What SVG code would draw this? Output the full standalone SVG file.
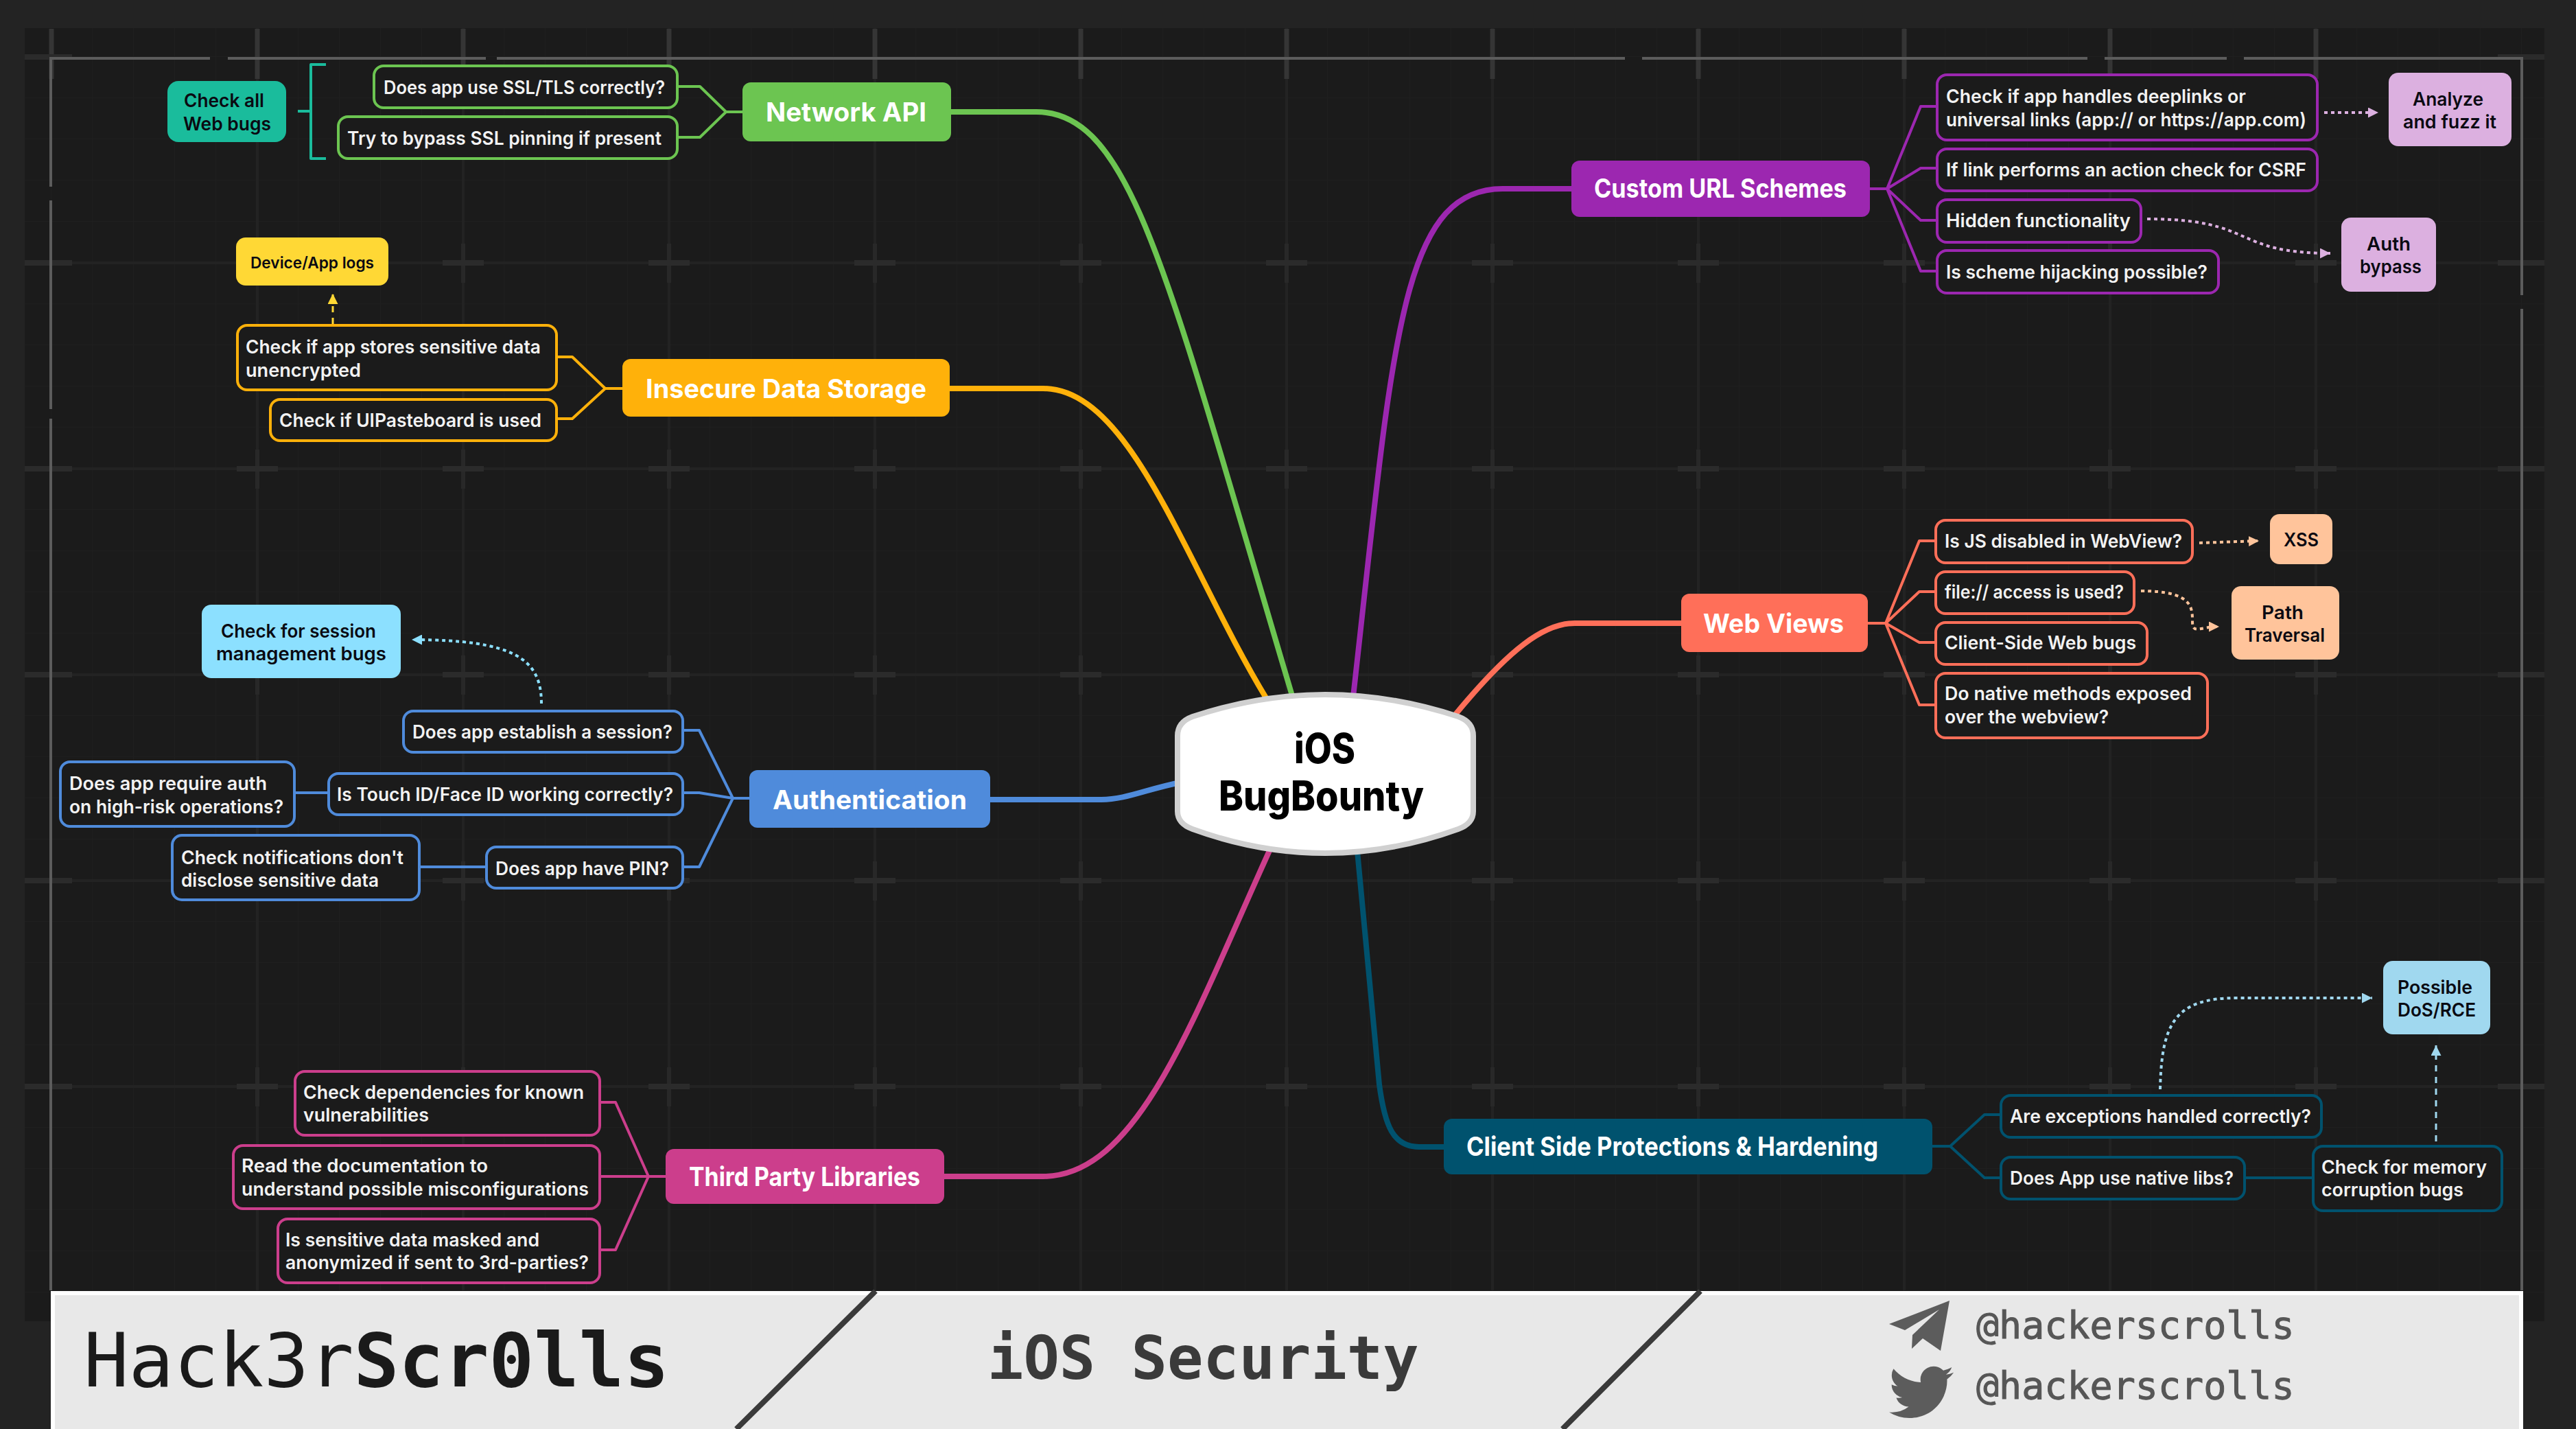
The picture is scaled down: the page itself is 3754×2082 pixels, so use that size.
<svg xmlns="http://www.w3.org/2000/svg" width="3754" height="2082" viewBox="0 0 3754 2082">
<style>
text{font-family:Inter,"Liberation Sans",sans-serif}
.o{fill:#1b1b1b;stroke-width:4}
.s{fill:none}
.q{font-size:27px;font-weight:600;fill:#f2f2f2;transform:translateY(2px)}
.b{font-size:27px;font-weight:600;fill:#0a0a12;transform:translateY(2px)}
.h{font-size:38px;font-weight:700;fill:#fff;transform:translateY(1px)}
.br{stroke-width:8;fill:none}
.fan{stroke-width:4;fill:none;stroke-linejoin:round}
.dot{stroke-width:4;fill:none;stroke-dasharray:5 5}
.dash{stroke-width:3;fill:none;stroke-dasharray:9 8}
.mono{font-family:"DejaVu Sans Mono","Liberation Mono",monospace}
.grn{stroke:#6cc551}.org{stroke:#ffb10a}.blu{stroke:#4f8bdb}.pnk{stroke:#cc3e8c}.pur{stroke:#9c27b0}.cor{stroke:#ff6f59}.tea{stroke:#00526e}
</style>
<defs>
<pattern id="fine" width="60" height="60" patternUnits="userSpaceOnUse" x="15" y="23"><path d="M60 0V60M0 60H60" fill="none" stroke="#1f1f1f" stroke-width="2"/></pattern>
<marker id="mY" viewBox="0 0 10 10" refX="10" refY="5" orient="auto" markerUnits="userSpaceOnUse" markerWidth="15" markerHeight="15"><path d="M0 0L10 5L0 10Z" fill="#ffd835"/></marker>
<marker id="mP" viewBox="0 0 10 10" refX="10" refY="5" orient="auto" markerUnits="userSpaceOnUse" markerWidth="15" markerHeight="15"><path d="M0 0L10 5L0 10Z" fill="#dcb0e0"/></marker>
<marker id="mO" viewBox="0 0 10 10" refX="10" refY="5" orient="auto" markerUnits="userSpaceOnUse" markerWidth="15" markerHeight="15"><path d="M0 0L10 5L0 10Z" fill="#ffc49b"/></marker>
<marker id="mS" viewBox="0 0 10 10" refX="10" refY="5" orient="auto" markerUnits="userSpaceOnUse" markerWidth="15" markerHeight="15"><path d="M0 0L10 5L0 10Z" fill="#8ce0ff"/></marker>
<marker id="mL" viewBox="0 0 10 10" refX="10" refY="5" orient="auto" markerUnits="userSpaceOnUse" markerWidth="15" markerHeight="15"><path d="M0 0L10 5L0 10Z" fill="#a0d8ef"/></marker>
</defs>

<g id="background">
<rect width="3754" height="2082" fill="#232323"/>
<rect x="36" y="41" width="3672" height="1884" fill="#1b1b1b"/>
<rect x="36" y="41" width="3672" height="1884" fill="url(#fine)"/>
<path d="M375 41V1880M675 41V1880M975 41V1880M1275 41V1880M1575 41V1880M1875 41V1880M2175 41V1880M2475 41V1880M2775 41V1880M3075 41V1880M3375 41V1880" stroke="#232323" stroke-width="4" fill="none"/>
<path d="M36 383H3708M36 683H3708M36 983H3708M36 1283H3708M36 1583H3708" stroke="#232323" stroke-width="4" fill="none"/>
<path d="M75 42V115M375 42V115M675 42V115M975 42V115M1275 42V115M1575 42V115M1875 42V115M2175 42V115M2475 42V115M2775 42V115M3075 42V115M3375 42V115" stroke="#353535" stroke-width="7" fill="none"/>
<path d="M375 355V412M675 355V412M975 355V412M1275 355V412M1575 355V412M1875 355V412M2175 355V412M2475 355V412M2775 355V412M3075 355V412M3375 355V412M375 655V712M675 655V712M975 655V712M1275 655V712M1575 655V712M1875 655V712M2175 655V712M2475 655V712M2775 655V712M3075 655V712M3375 655V712M375 955V1012M675 955V1012M975 955V1012M1275 955V1012M1575 955V1012M2175 955V1012M2475 955V1012M2775 955V1012M3075 955V1012M3375 955V1012M375 1255V1312M675 1255V1312M975 1255V1312M1275 1255V1312M1575 1255V1312M2175 1255V1312M2475 1255V1312M2775 1255V1312M3075 1255V1312M3375 1255V1312M375 1555V1612M675 1555V1612M975 1555V1612M1275 1555V1612M1575 1555V1612M1875 1555V1612M2175 1555V1612M2475 1555V1612M2775 1555V1612M3075 1555V1612M3375 1555V1612" stroke="#282828" stroke-width="6" fill="none"/>
<path d="M36 383H105M345 383H405M645 383H705M945 383H1005M1245 383H1305M1545 383H1605M1845 383H1905M2145 383H2205M2445 383H2505M2745 383H2805M3045 383H3105M3345 383H3405M3640 383H3708M36 683H105M345 683H405M645 683H705M945 683H1005M1245 683H1305M1545 683H1605M1845 683H1905M2145 683H2205M2445 683H2505M2745 683H2805M3045 683H3105M3345 683H3405M3640 683H3708M36 983H105M345 983H405M645 983H705M945 983H1005M1245 983H1305M1545 983H1605M2145 983H2205M2445 983H2505M2745 983H2805M3045 983H3105M3345 983H3405M3640 983H3708M36 1283H105M345 1283H405M645 1283H705M945 1283H1005M1245 1283H1305M1545 1283H1605M2145 1283H2205M2445 1283H2505M2745 1283H2805M3045 1283H3105M3345 1283H3405M3640 1283H3708M36 1583H105M345 1583H405M645 1583H705M945 1583H1005M1245 1583H1305M1545 1583H1605M1845 1583H1905M2145 1583H2205M2445 1583H2505M2745 1583H2805M3045 1583H3105M3345 1583H3405M3640 1583H3708M36 83H105M3640 83H3708" stroke="#2b2b2b" stroke-width="8" fill="none"/>
<path d="M74 1880V610M74 596V292M74 272V85H306M332 85H708M724 85H2368M2393 85H3042M3067 85H3245M3270 85H3675V430M3675 450V1880" stroke="#5c5c5c" stroke-width="4" fill="none"/>
</g>

<g id="connectors">
<path class="br grn" d="M1386 163H1510C1650 163 1700 400 1885 1020"/>
<path class="br org" d="M1384 566H1520C1650 566 1730 830 1850 1025"/>
<path class="br blu" d="M1443 1165H1605C1640 1165 1670 1150 1720 1140"/>
<path class="br pnk" d="M1376 1714H1520C1660 1714 1740 1480 1852 1235"/>
<path class="br pur" d="M2290 275H2190C2040 275 2030 500 1972 1015"/>
<path class="br cor" d="M2450 908H2295C2250 908 2200 945 2120 1042"/>
<path class="br tea" d="M2104 1671H2068C2030 1671 2018 1640 2010 1580L1978 1240"/>

<path class="fan grn" d="M987 126H1020L1058 163H1082M987 200H1020L1058 163"/>
<path class="fan" stroke="#1abc9c" d="M434 162H453M475 94H453V231H475"/>
<path class="fan org" d="M811 520H834L882 566H907M811 610H834L882 566"/>
<path class="fan blu" d="M995 1064H1019L1068 1163H1092M995 1155H1019L1068 1163M995 1263H1019L1068 1163M429 1155H478M611 1263H708"/>
<path class="fan pnk" d="M874 1606H897L945 1714H970M874 1714H945M874 1821H897L945 1714"/>
<path class="fan pur" d="M2725 275H2750L2799 155H2822M2750 275L2799 245H2822M2750 275L2799 321H2822M2750 275L2799 395H2822"/>
<path class="fan cor" d="M2722 908H2748L2797 788H2820M2748 908L2797 862H2820M2748 908L2797 936H2820M2748 908L2797 1027H2820"/>
<path class="fan tea" d="M2816 1670H2842L2892 1624H2915M2842 1670L2892 1716H2915M3271 1716H3370"/>

<path class="dash" stroke="#ffd835" d="M485 472V428" marker-end="url(#mY)"/>
<path class="dot" stroke="#dcb0e0" d="M3387 164H3466" marker-end="url(#mP)"/>
<path class="dot" stroke="#dcb0e0" d="M3129 319C3290 319 3250 369 3396 369" marker-end="url(#mP)"/>
<path class="dot" stroke="#ffc49b" d="M3205 791L3292 788" marker-end="url(#mO)"/>
<path class="dot" stroke="#ffc49b" d="M3120 861C3195 861 3195 885 3195 905C3195 925 3205 913 3234 913" marker-end="url(#mO)"/>
<path class="dot" stroke="#8ce0ff" d="M789 1025C789 960 750 932 600 932" marker-end="url(#mS)"/>
<path class="dot" stroke="#a0d8ef" d="M3148 1587C3150 1490 3170 1454 3260 1454H3457" marker-end="url(#mL)"/>
<path class="dash" stroke="#a0d8ef" d="M3550 1663V1523" marker-end="url(#mL)"/>
</g>

<g id="node-check-all"><rect x="244" y="118" width="173" height="89" rx="16" fill="#1abc9c"/><text class="b" x="268" y="154" textLength="117" lengthAdjust="spacingAndGlyphs">Check all</text><text class="b" x="267" y="188" textLength="128" lengthAdjust="spacingAndGlyphs">Web bugs</text></g>
<g id="node-ssl"><rect class="o grn" x="545" y="96" width="442" height="61" rx="14"/><text class="q" x="559" y="135" textLength="410" lengthAdjust="spacingAndGlyphs">Does app use SSL/TLS correctly?</text></g>
<g id="node-pinning"><rect class="o grn" x="493" y="170" width="494" height="61" rx="14"/><text class="q" x="506" y="209" textLength="458" lengthAdjust="spacingAndGlyphs">Try to bypass SSL pinning if present</text></g>
<g id="node-network-api"><rect x="1082" y="120" width="304" height="86" rx="12" fill="#6cc551"/><text class="h" x="1116" y="176" textLength="234" lengthAdjust="spacingAndGlyphs">Network API</text></g>

<g id="node-device-logs"><rect x="344" y="346" width="222" height="70" rx="14" fill="#ffd835"/><text class="b" style="font-size:23px" x="365" y="389" textLength="180" lengthAdjust="spacingAndGlyphs">Device/App logs</text></g>
<g id="node-stores"><rect class="o org" x="346" y="474" width="465" height="94" rx="14"/><text class="q" x="358" y="513" textLength="430" lengthAdjust="spacingAndGlyphs">Check if app stores sensitive data</text><text class="q" x="358" y="547" textLength="168" lengthAdjust="spacingAndGlyphs">unencrypted</text></g>
<g id="node-pasteboard"><rect class="o org" x="394" y="582" width="417" height="60" rx="14"/><text class="q" x="407" y="620" textLength="382" lengthAdjust="spacingAndGlyphs">Check if UIPasteboard is used</text></g>
<g id="node-insecure-storage"><rect x="907" y="523" width="477" height="84" rx="12" fill="#ffb10a"/><text class="h" x="941" y="579" textLength="409" lengthAdjust="spacingAndGlyphs">Insecure Data Storage</text></g>

<g id="node-session-bugs"><rect x="294" y="881" width="290" height="107" rx="14" fill="#8ce0ff"/><text class="b" x="322" y="927" textLength="226" lengthAdjust="spacingAndGlyphs">Check for session</text><text class="b" x="315" y="960" textLength="248" lengthAdjust="spacingAndGlyphs">management bugs</text></g>
<g id="node-establish"><rect class="o blu" x="588" y="1036" width="407" height="60" rx="14"/><text class="q" x="601" y="1074" textLength="379" lengthAdjust="spacingAndGlyphs">Does app establish a session?</text></g>
<g id="node-touchid"><rect class="o blu" x="479" y="1127" width="516" height="60" rx="14"/><text class="q" x="491" y="1165" textLength="490" lengthAdjust="spacingAndGlyphs">Is Touch ID/Face ID working correctly?</text></g>
<g id="node-high-risk"><rect class="o blu" x="88" y="1110" width="341" height="94" rx="14"/><text class="q" x="101" y="1149" textLength="288" lengthAdjust="spacingAndGlyphs">Does app require auth</text><text class="q" x="101" y="1183" textLength="312" lengthAdjust="spacingAndGlyphs">on high-risk operations?</text></g>
<g id="node-notifications"><rect class="o blu" x="251" y="1217" width="360" height="94" rx="14"/><text class="q" x="264" y="1257" textLength="324" lengthAdjust="spacingAndGlyphs">Check notifications don't</text><text class="q" x="264" y="1290" textLength="288" lengthAdjust="spacingAndGlyphs">disclose sensitive data</text></g>
<g id="node-pin"><rect class="o blu" x="709" y="1234" width="286" height="60" rx="14"/><text class="q" x="722" y="1273" textLength="253" lengthAdjust="spacingAndGlyphs">Does app have PIN?</text></g>
<g id="node-authentication"><rect x="1092" y="1122" width="351" height="84" rx="12" fill="#4f8bdb"/><text class="h" x="1126" y="1178" textLength="283" lengthAdjust="spacingAndGlyphs">Authentication</text></g>

<g id="node-dependencies"><rect class="o pnk" x="430" y="1561" width="444" height="93" rx="14"/><text class="q" x="442" y="1599" textLength="409" lengthAdjust="spacingAndGlyphs">Check dependencies for known</text><text class="q" x="442" y="1632" textLength="183" lengthAdjust="spacingAndGlyphs">vulnerabilities</text></g>
<g id="node-docs"><rect class="o pnk" x="340" y="1669" width="534" height="92" rx="14"/><text class="q" x="352" y="1706" textLength="359" lengthAdjust="spacingAndGlyphs">Read the documentation to</text><text class="q" x="352" y="1740" textLength="506" lengthAdjust="spacingAndGlyphs">understand possible misconfigurations</text></g>
<g id="node-masked"><rect class="o pnk" x="405" y="1776" width="469" height="93" rx="14"/><text class="q" x="416" y="1814" textLength="370" lengthAdjust="spacingAndGlyphs">Is sensitive data masked and</text><text class="q" x="416" y="1847" textLength="442" lengthAdjust="spacingAndGlyphs">anonymized if sent to 3rd-parties?</text></g>
<g id="node-third-party"><rect x="970" y="1674" width="406" height="80" rx="12" fill="#cc3e8c"/><text class="h" x="1004" y="1727" textLength="337" lengthAdjust="spacingAndGlyphs">Third Party Libraries</text></g>

<g id="node-custom-url"><rect x="2290" y="234" width="435" height="82" rx="12" fill="#9c27b0"/><text class="h" x="2323" y="287" textLength="368" lengthAdjust="spacingAndGlyphs">Custom URL Schemes</text></g>
<g id="node-deeplinks"><rect class="o pur" x="2823" y="109" width="554" height="95" rx="14"/><text class="q" x="2836" y="148" textLength="437" lengthAdjust="spacingAndGlyphs">Check if app handles deeplinks or</text><text class="q" x="2836" y="182" textLength="525" lengthAdjust="spacingAndGlyphs">universal links (app:// or https://app.com)</text></g>
<g id="node-csrf"><rect class="o pur" x="2823" y="217" width="554" height="61" rx="14"/><text class="q" x="2836" y="255" textLength="525" lengthAdjust="spacingAndGlyphs">If link performs an action check for CSRF</text></g>
<g id="node-hidden"><rect class="o pur" x="2823" y="291" width="297" height="62" rx="14"/><text class="q" x="2836" y="329" textLength="269" lengthAdjust="spacingAndGlyphs">Hidden functionality</text></g>
<g id="node-hijacking"><rect class="o pur" x="2823" y="365" width="410" height="62" rx="14"/><text class="q" x="2836" y="404" textLength="381" lengthAdjust="spacingAndGlyphs">Is scheme hijacking possible?</text></g>
<g id="node-analyze"><rect x="3481" y="106" width="179" height="107" rx="14" fill="#dcb0e0"/><text class="b" x="3516" y="152" textLength="103" lengthAdjust="spacingAndGlyphs">Analyze</text><text class="b" x="3502" y="185" textLength="136" lengthAdjust="spacingAndGlyphs">and fuzz it</text></g>
<g id="node-auth-bypass"><rect x="3412" y="317" width="138" height="108" rx="14" fill="#dcb0e0"/><text class="b" x="3449" y="363" textLength="64" lengthAdjust="spacingAndGlyphs">Auth</text><text class="b" x="3439" y="396" textLength="90" lengthAdjust="spacingAndGlyphs">bypass</text></g>

<g id="node-web-views"><rect x="2450" y="865" width="272" height="85" rx="12" fill="#ff6f59"/><text class="h" x="2482" y="921" textLength="205" lengthAdjust="spacingAndGlyphs">Web Views</text></g>
<g id="node-js"><rect class="o cor" x="2821" y="758" width="374" height="62" rx="14"/><text class="q" x="2834" y="796" textLength="346" lengthAdjust="spacingAndGlyphs">Is JS disabled in WebView?</text></g>
<g id="node-file"><rect class="o cor" x="2821" y="833" width="289" height="61" rx="14"/><text class="q" x="2834" y="870" textLength="261" lengthAdjust="spacingAndGlyphs">file:// access is used?</text></g>
<g id="node-client-web"><rect class="o cor" x="2821" y="907" width="308" height="61" rx="14"/><text class="q" x="2834" y="944" textLength="279" lengthAdjust="spacingAndGlyphs">Client-Side Web bugs</text></g>
<g id="node-native"><rect class="o cor" x="2821" y="981" width="396" height="94" rx="14"/><text class="q" x="2834" y="1018" textLength="360" lengthAdjust="spacingAndGlyphs">Do native methods exposed</text><text class="q" x="2834" y="1052" textLength="239" lengthAdjust="spacingAndGlyphs">over the webview?</text></g>
<g id="node-xss"><rect x="3308" y="749" width="91" height="73" rx="14" fill="#ffc49b"/><text class="b" x="3328" y="794" textLength="51" lengthAdjust="spacingAndGlyphs">XSS</text></g>
<g id="node-path"><rect x="3252" y="854" width="157" height="107" rx="14" fill="#ffc49b"/><text class="b" x="3296" y="900" textLength="61" lengthAdjust="spacingAndGlyphs">Path</text><text class="b" x="3271" y="933" textLength="117" lengthAdjust="spacingAndGlyphs">Traversal</text></g>

<g id="node-client-side"><rect x="2104" y="1630" width="712" height="81" rx="12" fill="#00526e"/><text class="h" x="2137" y="1683" textLength="600" lengthAdjust="spacingAndGlyphs">Client Side Protections &amp; Hardening</text></g>
<g id="node-exceptions"><rect class="o tea" x="2916" y="1596" width="467" height="61" rx="14"/><text class="q" x="2929" y="1634" textLength="439" lengthAdjust="spacingAndGlyphs">Are exceptions handled correctly?</text></g>
<g id="node-native-libs"><rect class="o tea" x="2916" y="1686" width="355" height="61" rx="14"/><text class="q" x="2929" y="1724" textLength="326" lengthAdjust="spacingAndGlyphs">Does App use native libs?</text></g>
<g id="node-memory"><rect class="o tea" x="3371" y="1670" width="275" height="94" rx="14"/><text class="q" x="3383" y="1708" textLength="241" lengthAdjust="spacingAndGlyphs">Check for memory</text><text class="q" x="3383" y="1741" textLength="207" lengthAdjust="spacingAndGlyphs">corruption bugs</text></g>
<g id="node-dos"><rect x="3473" y="1400" width="156" height="107" rx="14" fill="#a0d8ef"/><text class="b" x="3494" y="1446" textLength="109" lengthAdjust="spacingAndGlyphs">Possible</text><text class="b" x="3494" y="1479" textLength="114" lengthAdjust="spacingAndGlyphs">DoS/RCE</text></g>

<g id="node-center"><path d="M1738 1044Q1931 980 2125 1044Q2147 1052 2147 1072V1182Q2147 1200 2125 1208Q1931 1278 1738 1208Q1716 1200 1716 1182V1072Q1716 1052 1738 1044Z" fill="#fff" stroke="#d0d0d0" stroke-width="8"/><text x="1886" y="1112" font-size="60" font-weight="800" fill="#000" textLength="89" lengthAdjust="spacingAndGlyphs">iOS</text><text x="1776" y="1181" font-size="60" font-weight="800" fill="#000" textLength="299" lengthAdjust="spacingAndGlyphs">BugBounty</text></g>

<g id="footer">
<rect x="74" y="1881" width="3603" height="201" fill="#fff"/>
<rect x="80" y="1887" width="3591" height="195" fill="#e8e8e8"/>
<path d="M1276 1881L1073 2082M2478 1881L2277 2082" stroke="#3a3a3a" stroke-width="8" fill="none"/>
<text class="mono" x="122" y="2020" font-size="109" fill="#1a1a1a">Hack3r<tspan font-weight="700">Scr0lls</tspan></text>
<text class="mono" x="1439" y="2009" font-size="87" font-weight="700" fill="#3a3a3a">iOS Security</text>
<polygon points="2841,1895 2753,1929 2776,1938 2826,1908 2787,1945 2786,1965 2802,1950 2828,1968" fill="#5c5c5c"/>
<text class="mono" x="2880" y="1950" font-size="55" fill="#565656" stroke="#565656" stroke-width="1">@hackerscrolls</text>
<path transform="translate(2753 1982) scale(3.92 3.86)" fill="#5c5c5c" d="M23.953 4.57a10 10 0 01-2.825.775 4.958 4.958 0 002.163-2.723c-.951.555-2.005.959-3.127 1.184a4.92 4.92 0 00-8.384 4.482C7.69 8.095 4.067 6.13 1.64 3.162a4.822 4.822 0 00-.666 2.475c0 1.71.87 3.213 2.188 4.096a4.904 4.904 0 01-2.228-.616v.06a4.923 4.923 0 003.946 4.827 4.996 4.996 0 01-2.212.085 4.936 4.936 0 004.604 3.417 9.867 9.867 0 01-6.102 2.105c-.39 0-.779-.023-1.17-.067a13.995 13.995 0 007.557 2.209c9.053 0 13.998-7.496 13.998-13.985 0-.21 0-.42-.015-.63A9.935 9.935 0 0024 4.59z"/>
<text class="mono" x="2880" y="2038" font-size="55" fill="#565656" stroke="#565656" stroke-width="1">@hackerscrolls</text>
</g>
</svg>
